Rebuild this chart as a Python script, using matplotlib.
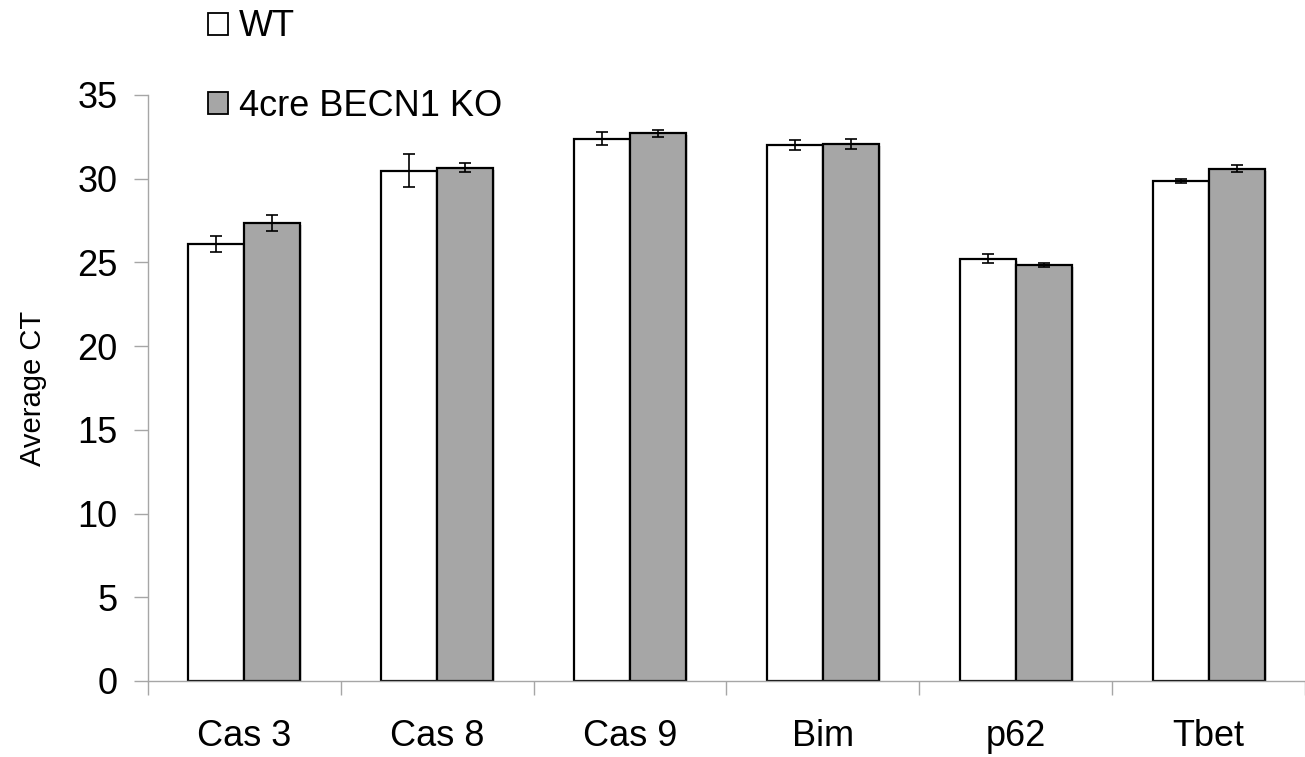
import matplotlib
matplotlib.use('Agg')
import matplotlib.pyplot as plt
import matplotlib.patheffects as pe
import numpy as np

plt.rcParams['font.family'] = ['Liberation Sans', 'DejaVu Sans']

genes = ['Cas 3', 'Cas 8', 'Cas 9', 'Bim', 'p62', 'Tbet']
wt_mean = [26.09, 30.48, 32.40, 32.02, 25.23, 29.87]
wt_err = [0.49, 0.99, 0.41, 0.29, 0.27, 0.12]
ko_mean = [27.36, 30.66, 32.72, 32.08, 24.85, 30.59]
ko_err = [0.50, 0.26, 0.21, 0.30, 0.11, 0.20]

fig = plt.figure(figsize=(13.05, 7.57), dpi=100)
ax = fig.add_axes([148 / 1305, 1 - 681 / 757, 1 - 148 / 1305, (681 - 95) / 757])

x = np.arange(len(genes))
w = 0.29
err_kw = dict(ecolor='black', elinewidth=1.2, capsize=4.3, capthick=1.2)
b1 = ax.bar(x - w / 2, wt_mean, w, yerr=wt_err, color='white', edgecolor='black',
            linewidth=1.6, error_kw=err_kw, label='WT', zorder=2)
b2 = ax.bar(x + w / 2, ko_mean, w, yerr=ko_err, color='#a6a6a6', edgecolor='black',
            linewidth=1.6, error_kw=err_kw, label='4cre BECN1 KO', zorder=2)

# faint drop shadow like the original
shadow = [pe.SimplePatchShadow(offset=(1.5, -1.5), shadow_rgbFace='#999999', alpha=0.35), pe.Normal()]
for bar in list(b1) + list(b2):
    bar.set_path_effects(shadow)

ax.set_ylim(0, 35)
ax.set_xlim(-0.5, 5.443)
ax.set_yticks(range(0, 36, 5))
ax.set_xticks(x)
ax.set_xticklabels(genes)
ax.set_xticks(np.arange(-0.5, 5.6, 1), minor=True)
ax.tick_params(axis='x', which='major', length=0, pad=27, labelsize=26)
ax.tick_params(axis='x', which='minor', length=10, width=1, color='#a6a6a6')
ax.tick_params(axis='y', length=10, width=1, color='#a6a6a6', labelsize=26, pad=12)

for s in ['top', 'right']:
    ax.spines[s].set_visible(False)
for s in ['left', 'bottom']:
    ax.spines[s].set_color('#a6a6a6')
    ax.spines[s].set_linewidth(1)

ax.set_ylabel('Average CT', fontsize=21, labelpad=22)

leg = fig.legend(handles=[b1, b2], loc='upper left', bbox_to_anchor=(194 / 1305, 1 + 5 / 757),
                 frameon=False, fontsize=26, handlelength=0.55, handleheight=0.55,
                 handletextpad=0.3, labelspacing=1.23, borderaxespad=0)
for p in leg.get_patches():
    p.set_linewidth(1.3)
    p.set_path_effects([])

fig.savefig('out.png', dpi=100)
